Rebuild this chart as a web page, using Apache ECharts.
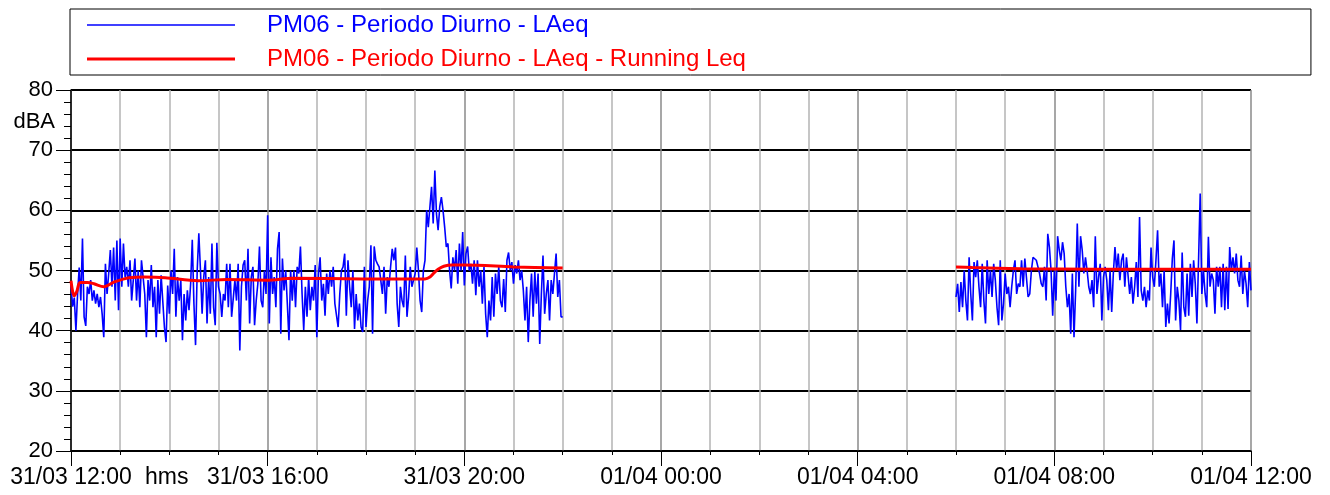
<!DOCTYPE html>
<html>
<head>
<meta charset="utf-8">
<script src="https://cdn.jsdelivr.net/npm/echarts@6/dist/echarts.min.js"></script>
<style>
  html, body { margin: 0; padding: 0; background: #fff; }
  #chart { width: 1330px; height: 495px; }
</style>
</head>
<body>
<div id="chart"></div>
<script>
// tick labels of the time axis (every 4 hours, value = minutes from 31/03 12:00)
const xTickLabels = ['31/03 12:00', '31/03 16:00', '31/03 20:00', '01/04 00:00', '01/04 04:00', '01/04 08:00', '01/04 12:00'];

// LAeq samples, one every 2 minutes
const sampleStep = 2;
const day1Start = 0;      // 31/03 12:00
const day2Start = 1080;   // 01/04 06:00

const laeqDay1 = [
  47.5, 44, 45.5, 40, 46, 50.5, 45, 55.3, 42.3, 40.8,
  47.3, 46.1, 48.4, 45, 46.7, 44.5, 46.1, 43.9, 45.6, 42.8,
  38.9, 51.1, 46.1, 49.5, 53.4, 47.3, 53.8, 45, 55, 43.4,
  55.3, 47.3, 54.5, 48.9, 50.6, 47.3, 51.7, 45, 48.4, 52,
  45, 50, 43.9, 51.7, 48.9, 46.1, 38.9, 48.4, 45, 50.9,
  43.9, 47.3, 38.9, 48.4, 42.8, 49.2, 49, 40.6, 38.1, 47.5,
  42.8, 50, 46.1, 53.6, 42.3, 48.9, 45, 48.4, 38.4, 46.1,
  41.7, 46.7, 43.4, 47.8, 55.1, 44.5, 37.6, 50, 56.2, 50,
  42.8, 48.9, 51.7, 41.2, 48.9, 42.8, 54.5, 43.9, 40.9, 54.6,
  47.3, 46.1, 42.3, 46.1, 45, 51.1, 43.9, 51.1, 42.3, 42.3,
  48.4, 45, 51.1, 36.7, 47.3, 50.9, 51.7, 45, 53.6, 41.2,
  48.9, 50.6, 40.9, 45, 47.8, 54, 45, 43.9, 50, 46.1,
  59.2, 41.2, 52.2, 46.1, 48.9, 43.9, 53.6, 56.4, 39.5, 52,
  46.7, 50, 44.5, 38.4, 50, 45, 50, 43.9, 50.6, 49.5,
  54, 46.1, 40.1, 47.3, 42.3, 48.9, 43.4, 47.3, 45, 50.9,
  38.9, 49.5, 52.2, 45, 47.8, 42.5, 49.5, 46.1, 50, 47.3,
  50.6, 44.5, 44.5, 40.6, 46.1, 50, 50.6, 52.8, 42.5, 51.7,
  47.3, 43.9, 50, 40.3, 46.1, 41.7, 44.5, 40.6, 39.8, 50.6,
  40.6, 45, 47.3, 54.2, 39.5, 54, 51.7, 51.1, 50.6, 48.4,
  46.1, 50.6, 42.8, 48.9, 47.3, 50.6, 53.6, 51.7, 53.8, 44.5,
  40.6, 47.3, 45, 43.9, 52.5, 42.3, 45.6, 50.6, 47.3, 48.4,
  49.5, 53.8, 50, 45, 43.1, 50, 51.7, 60, 57.2, 60.6,
  63.9, 57.8, 66.6, 59.4, 56.7, 60.6, 62.2, 60, 57.2, 53.9,
  54.5, 50, 47, 52.2, 50, 53.4, 47.8, 54.5, 50, 56.4,
  47.5, 52.8, 54, 50, 51.1, 47.8, 51.7, 45.9, 51.7, 47.3,
  50, 44.5, 50.6, 42.8, 38.9, 45, 41.7, 48.9, 42.3, 49.5,
  46.1, 50.6, 45, 43.9, 48.6, 43.1, 51.7, 53, 50, 51.4,
  47.8, 50.9, 49.5, 51.7, 48.4, 50, 46.7, 41.7, 47.3, 38.1,
  45, 49.5, 42.3, 49.8, 44.5, 49.5, 37.8, 46.1, 52.5, 42.8,
  46.1, 48.4, 41.7, 48.4, 46.1, 49.5, 52.8, 45.6, 48.4, 42.3, 42.3
];

const laeqDay2 = [
  45.6, 47.8, 43.1, 48.1, 43.9, 50, 45, 41.7, 52.2, 46.1,
  41.7, 51.4, 48.9, 51.7, 47.3, 43.9, 51.1, 45, 41.2, 51.7,
  46.1, 50, 45.6, 51.1, 48.4, 43.9, 40.9, 51.7, 41.7, 44.5,
  49.5, 46.1, 47.3, 43.9, 47.3, 50, 51.7, 46.1, 47.8, 47.3,
  51.7, 47.3, 52, 52.2, 45.6, 46.1, 50, 52.2, 52.5, 51.7,
  50.6, 49.5, 47.8, 47.3, 50.6, 45, 56.1, 53.9, 50, 42.5,
  50, 45, 55.7, 53.4, 51.7, 54.7, 52.8, 47.3, 43.9, 46.1,
  39.5, 49.5, 38.9, 46.7, 57.8, 47.3, 55.7, 53.4, 49.5, 52.2,
  50, 47.3, 46.1, 48.4, 43.9, 55.7, 46.1, 48.9, 51.1, 41.7,
  48.9, 50.6, 48.4, 43.4, 50, 43.1, 49.5, 53.9, 50, 52.8,
  48.4, 51.7, 52.8, 47.3, 52.2, 52.5, 46.1, 48.9, 44.5, 47.3,
  51.4, 45.6, 58.9, 46.7, 45, 47.3, 43.9, 46.7, 45, 53.8,
  48.9, 47.3, 51.7, 56.7, 47.3, 49.5, 43.9, 50, 40.6, 44.5,
  41.2, 46.1, 52, 55, 41.7, 47.3, 45, 40.1, 53, 43.9,
  42.3, 49.5, 42.5, 51.1, 45.6, 51.7, 47.8, 41.2, 51.7, 62.8,
  46.1, 50, 46.1, 43.9, 55.6, 47.3, 49.5, 48.4, 42.8, 50.6,
  47.3, 50.6, 43.9, 51.1, 43.4, 50.6, 43.6, 53.9, 50, 52.2,
  49.5, 52.8, 48.4, 47.3, 52.5, 46.1, 50, 47.8, 43.9, 51.4, 46.7
];

// Running Leq (minutes from 31/03 12:00, dBA)
const runTimes1 = [0, 2, 4, 7, 11, 20, 28, 40, 53, 71, 90, 115, 155, 190, 240, 270, 356, 432, 438, 443, 448, 455, 465, 480, 540, 600];
const runValues1 = [48.3, 46.5, 45.8, 46.5, 48.0, 48.0, 47.8, 47.3, 48.1, 48.8, 48.9, 48.8, 48.3, 48.5, 48.4, 48.7, 48.6, 48.6, 48.9, 49.6, 50.2, 50.7, 50.9, 50.9, 50.6, 50.4];
const runTimes2 = [1080, 1100, 1160, 1250, 1350, 1440];
const runValues2 = [50.6, 50.5, 50.3, 50.2, 50.2, 50.2];

const nameLaeq = 'PM06 - Periodo Diurno - LAeq';
const nameRun = 'PM06 - Periodo Diurno - LAeq - Running Leq';

const blueData = [];
laeqDay1.forEach((v, i) => blueData.push([day1Start + i * sampleStep, v]));
blueData.push([800, '-']);
laeqDay2.forEach((v, i) => blueData.push([day2Start + i * sampleStep, v]));

const redData = [];
runTimes1.forEach((t, i) => redData.push([t, runValues1[i]]));
redData.push([800, '-']);
runTimes2.forEach((t, i) => redData.push([t, runValues2[i]]));

const font = "'Liberation Sans', Arial, sans-serif";
const chart = echarts.init(document.getElementById('chart'));

chart.setOption({
  animation: false,
  backgroundColor: '#fff',
  textStyle: { fontFamily: font },
  grid: { left: 71, right: 79, top: 90, bottom: 44 },
  legend: {
    orient: 'vertical',
    left: 70,
    top: 9,
    padding: [4, 565, 4, 17],
    itemGap: 10,
    itemWidth: 148,
    itemHeight: 14,
    symbolKeepAspect: true,
    borderColor: '#000',
    borderWidth: 1,
    selectedMode: false,
    textStyle: { fontSize: 24, fontFamily: font, padding: [0, 0, 0, 27] },
    data: [
      { name: nameLaeq, icon: 'path://M0,0H148V1.4H0Z', textStyle: { color: '#0000ff' } },
      { name: nameRun, icon: 'path://M0,0H148V3H0Z', textStyle: { color: '#ff0000' } }
    ]
  },
  xAxis: {
    type: 'value',
    min: 0,
    max: 1440,
    interval: 240,
    axisLine: { show: true, onZero: false, lineStyle: { color: '#000', width: 1.5 } },
    axisTick: { show: true, length: 15, lineStyle: { color: '#000' } },
    minorTick: { show: true, splitNumber: 4, length: 4, lineStyle: { color: '#000' } },
    splitLine: { show: true, lineStyle: { color: '#8a8a8a', width: 1.5 } },
    minorSplitLine: { show: true, lineStyle: { color: '#b4b4b4', width: 1.5 } },
    axisLabel: {
      color: '#000',
      fontSize: 23,
      fontFamily: font,
      margin: 15,
      showMinLabel: true,
      showMaxLabel: true,
      formatter: v => xTickLabels[Math.round(v / 240)] || ''
    }
  },
  yAxis: {
    type: 'value',
    min: 20,
    max: 80,
    interval: 10,
    axisLine: { show: true, lineStyle: { color: '#000', width: 1.5 } },
    axisTick: { show: true, length: 15, lineStyle: { color: '#000' } },
    minorTick: { show: true, splitNumber: 5, length: 7, lineStyle: { color: '#000' } },
    splitLine: { show: true, lineStyle: { color: '#000', width: 2 } },
    axisLabel: { color: '#000', fontSize: 22, fontFamily: font, margin: 18 }
  },
  graphic: [
    { type: 'text', left: 145, top: 466, style: { text: 'hms', fontSize: 23, fontFamily: font, fill: '#000' } },
    { type: 'text', right: 1275, top: 111, style: { text: 'dBA', fontSize: 22, fontFamily: font, fill: '#000' } }
  ],
  series: [
    {
      name: nameLaeq,
      type: 'line',
      data: blueData,
      showSymbol: false,
      symbol: 'none',
      connectNulls: false,
      lineStyle: { color: '#0000ff', width: 1.6 },
      itemStyle: { color: '#0000ff' },
      z: 2
    },
    {
      name: nameRun,
      type: 'line',
      data: redData,
      showSymbol: false,
      symbol: 'none',
      smooth: 0.3,
      connectNulls: false,
      lineStyle: { color: '#ff0000', width: 3 },
      itemStyle: { color: '#ff0000' },
      z: 3
    }
  ]
});
</script>
</body>
</html>
